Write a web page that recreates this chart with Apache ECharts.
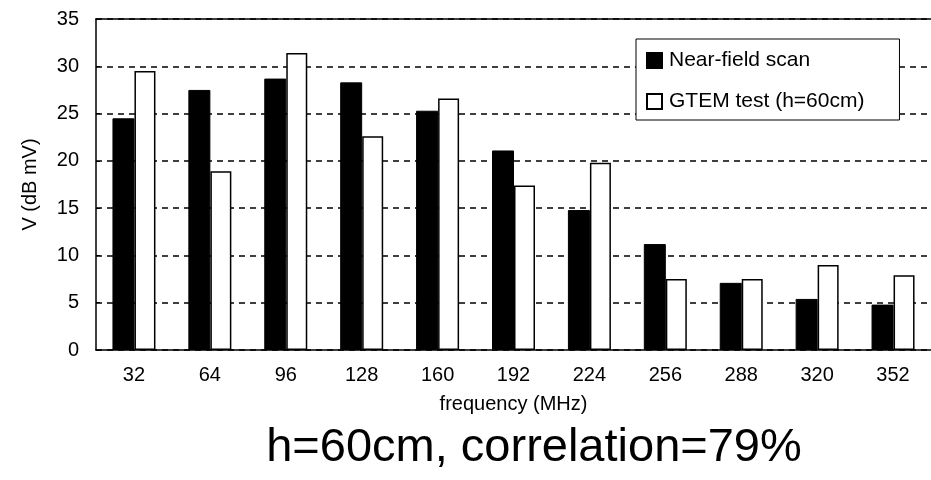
<!DOCTYPE html>
<html>
<head>
<meta charset="utf-8">
<script src="https://cdn.jsdelivr.net/npm/echarts@6/dist/echarts.min.js"></script>
<style>
  html, body { margin: 0; padding: 0; background: #fff; }
  #chart { width: 931px; height: 480px; }
</style>
</head>
<body>
<div id="chart"></div>
<script>
// Frequencies (MHz) on the category axis
const categories = ['32', '64', '96', '128', '160', '192', '224', '256', '288', '320', '352'];
// Measured levels, dB mV
const nearField = [24.5, 27.5, 28.7, 28.3, 25.3, 21.1, 14.8, 11.2, 7.1, 5.4, 4.8];
const gtem = [29.5, 18.9, 31.4, 22.6, 26.6, 17.4, 19.8, 7.5, 7.5, 9.0, 7.9];
const yTicks = { min: 0, max: 35, interval: 5 };

const FONT = '"Liberation Sans", Arial, sans-serif';
const chart = echarts.init(document.getElementById('chart'));

chart.setOption({
  animation: false,
  backgroundColor: '#fff',
  grid: { left: 96, right: -1, top: 19, bottom: 130, containLabel: false },
  legend: {
    orient: 'vertical',
    left: 636,
    top: 39,
    padding: [11, 35, 8, 10],
    itemGap: 20,
    itemWidth: 15,
    itemHeight: 15,
    borderColor: '#000',
    borderWidth: 1,
    backgroundColor: '#fff',
    icon: 'rect',
    textStyle: { fontFamily: FONT, fontSize: 21, lineHeight: 20, color: '#000', padding: [0, 0, 0, 2] },
    data: ['Near-field scan', 'GTEM test (h=60cm)']
  },
  title: {
    text: 'h=60cm, correlation=79%',
    left: 529,
    top: 420,
    textAlign: 'center',
    textStyle: { fontFamily: FONT, fontSize: 47, fontWeight: 'normal', color: '#000' }
  },
  xAxis: [{
    type: 'category',
    data: categories,
    name: 'frequency (MHz)',
    nameLocation: 'middle',
    nameGap: 44,
    nameTextStyle: { fontFamily: FONT, fontSize: 20, color: '#000' },
    axisLine: { lineStyle: { color: '#000', width: 1.5 } },
    axisTick: { inside: true, length: 4, lineStyle: { color: '#000' } },
    axisLabel: { fontFamily: FONT, fontSize: 20, color: '#000', margin: 15 }
  }, {
    type: 'category',
    data: categories,
    position: 'top',
    axisLine: { lineStyle: { color: '#000', width: 1.5 } },
    axisTick: { show: false },
    axisLabel: { show: false }
  }],
  yAxis: {
    type: 'value',
    min: yTicks.min,
    max: yTicks.max,
    interval: yTicks.interval,
    name: 'V (dB mV)',
    nameLocation: 'middle',
    nameGap: 56,
    nameTextStyle: { fontFamily: FONT, fontSize: 20, color: '#000' },
    axisLine: { show: true, lineStyle: { color: '#000', width: 1.5 } },
    axisTick: { show: true, inside: true, length: 4, lineStyle: { color: '#000' } },
    axisLabel: { fontFamily: FONT, fontSize: 20, color: '#000', margin: 17 },
    splitLine: { show: true, lineStyle: { color: '#000', type: [6, 5], width: 1.5 } }
  },
  series: [{
    name: 'Near-field scan',
    type: 'bar',
    data: nearField,
    barWidth: 22,
    barGap: '0%',
    itemStyle: { color: '#000', borderColor: '#000', borderWidth: 1 }
  }, {
    name: 'GTEM test (h=60cm)',
    type: 'bar',
    data: gtem,
    barWidth: 21,
    barGap: '0%',
    itemStyle: { color: '#fff', borderColor: '#000', borderWidth: 1.5 }
  }]
});
</script>
</body>
</html>
